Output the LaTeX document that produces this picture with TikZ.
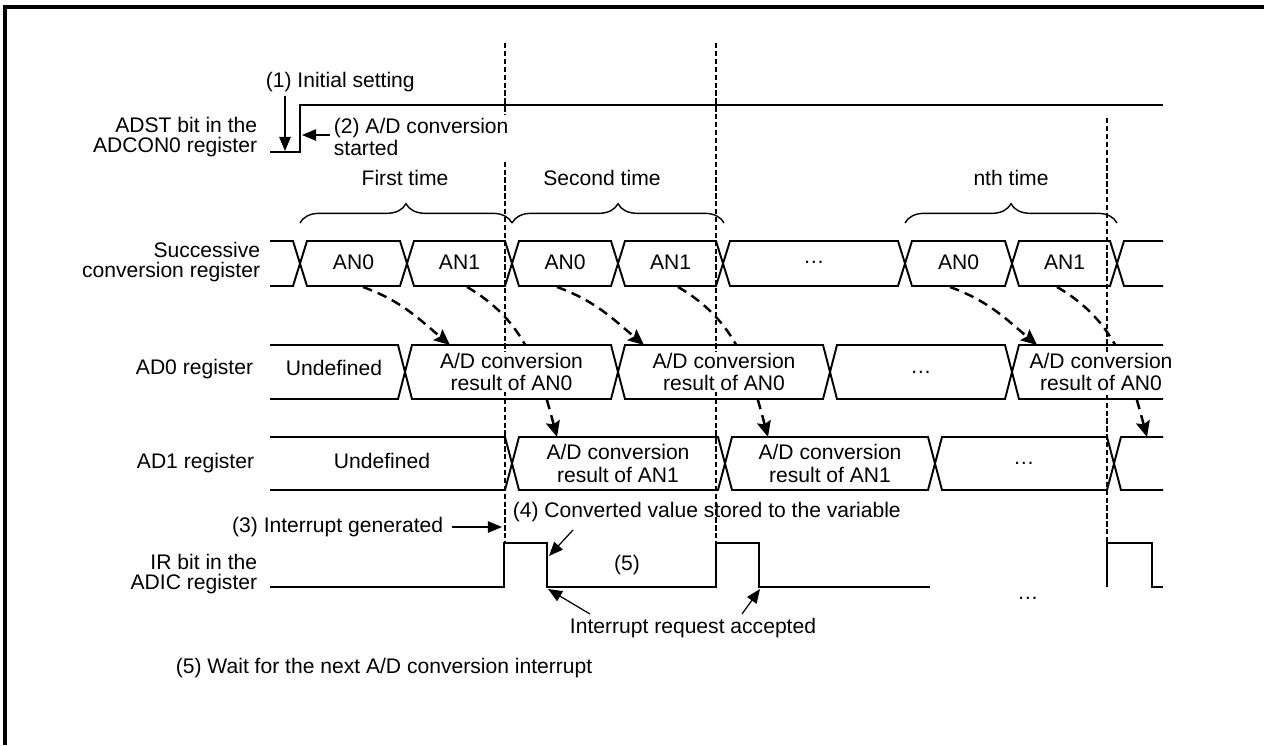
\documentclass[tikz,border=0pt]{standalone}
\usepackage{fontspec}
\setmainfont{Liberation Sans}
\usetikzlibrary{positioning,arrows.meta,calc,decorations.pathreplacing}
\tikzset{
frame/.style={line width=2.3pt},
lbl/.style={font=\fontsize{12}{11}\selectfont, inner sep=2pt},
rowlbl/.style={lbl, align=right, anchor=east},
seglbl/.style={font=\fontsize{12}{13}\selectfont, align=center, inner sep=0.5pt, fill=white},
sig/.style={line width=1.1pt},
bus/.style={line width=1.1pt, fill=white},
guide/.style={line width=0.6pt, dash pattern=on 3pt off 1.5pt},
xfer/.style={line width=1.4pt, dash pattern=on 5.5pt off 3.5pt, -{Stealth[width=8pt,length=9pt,inset=1.5pt]}},
note/.style={line width=0.7pt, -{Triangle[width=6.5pt,length=8pt]}},
brc/.style={decorate, decoration={brace, amplitude=11pt}, line width=0.8pt}
}
\begin{document}
\begin{tikzpicture}[x=0.02cm, y=-0.02cm]
\useasboundingbox (0,0) rectangle (1264,745);

% frame
\draw[frame] (5,745) -- (5,7) -- (1264,7);

% transfers to AD0 / AD1 (boxes drawn later hide the middle part)
\foreach \s [count=\i] in {363,557,950}{
  \coordinate (an0s\i) at (\s,287);
  \coordinate (ad0e\i) at (\s+87,345);
  \draw[xfer] (an0s\i) to[out=-20,in=140] (ad0e\i);
}
\foreach \s [count=\i] in {467,678,1057}{
  \coordinate (an1s\i) at (\s,287);
  \coordinate (ad1e\i) at (\s+90,437);
  \draw[xfer] (an1s\i) to[out=-30,in=105] (ad1e\i);
}

% ADST bit
\draw[sig] (270,152) -- (300,152) -- (300,105) -- (1163,105);

% successive conversion register
\draw[bus] (270,241) -- (293,241) -- (300,263.5) -- (293,286) -- (270,286);
\foreach \a/\b in {300/407,407/512,512/618,618/723,723/905,905/1012,1012/1117}
  \draw[bus] (\a,263.5) -- (\a+7,241) -- (\b-7,241) -- (\b,263.5) -- (\b-7,286) -- (\a+7,286) -- cycle;
\draw[bus] (1163,241) -- (1124,241) -- (1117,263.5) -- (1124,286) -- (1163,286);

% AD0 register
\draw[bus] (270,345) -- (398,345) -- (405,372) -- (398,399) -- (270,399);
\foreach \a/\b in {405/618,618/830,830/1012}
  \draw[bus] (\a,372) -- (\a+7,345) -- (\b-7,345) -- (\b,372) -- (\b-7,399) -- (\a+7,399) -- cycle;
\draw[bus] (1163,345) -- (1019,345) -- (1012,372) -- (1019,399) -- (1163,399);

% AD1 register
\draw[bus] (270,437) -- (505,437) -- (512,463.5) -- (505,490) -- (270,490);
\foreach \a/\b in {512/725,725/935,935/1114}
  \draw[bus] (\a,463.5) -- (\a+7,437) -- (\b-7,437) -- (\b,463.5) -- (\b-7,490) -- (\a+7,490) -- cycle;
\draw[bus] (1163,437) -- (1121,437) -- (1114,463.5) -- (1121,490) -- (1163,490);

% IR bit
\draw[sig] (270,587) -- (504,587) -- (504,543) -- (547,543) -- (547,587) -- (716,587)
  -- (716,543) -- (759,543) -- (759,587) -- (930,587);
\draw[sig] (1107,587) -- (1107,543) -- (1152,543) -- (1152,587) -- (1163,587);

% guides
\draw[guide] (505,43) -- (505,543);
\draw[guide] (716,43) -- (716,543);
\draw[guide] (1107,118) -- (1107,543);

% braces
\draw[brc] (300,223) -- (512,223);
\draw[brc] (512,223) -- (724,223);
\draw[brc] (905,223) -- (1117,223);
\node[lbl] (first) at (405,178) {First time};
\node[lbl] (second) at (602,178) {Second time};
\node[lbl] (nth) at (1011,178) {nth time};

% row labels
\node[rowlbl] (adst) at (261,137) {ADST bit in the\\ADCON0 register};
\node[rowlbl] (succ) at (264,262) {Successive\\conversion register};
\node[rowlbl] (ad0) at (257,369) {AD0 register};
\node[rowlbl] (ad1) at (258,463) {AD1 register};
\node[rowlbl] (ir) at (261,574) {IR bit in the\\ADIC register};

% segment labels
\foreach \x/\t [count=\i] in {353.5/AN0,459.5/AN1,565/AN0,670.5/AN1,814/…,958.5/AN0,1064.5/AN1}
  \node[seglbl] (sc\i) at (\x,262) {\t};
\node[seglbl] (ad0u) at (334,368) {Undefined};
\foreach \x/\t [count=\i] in {511.5/{A/D conversion\\result of AN0},724/{A/D conversion\\result of AN0},921/…,1101/{A/D conversion\\result of AN0}}
  \node[seglbl] (ad0s\i) at (\x,372) {\t};
\node[seglbl] (ad1u) at (382,461) {Undefined};
\foreach \x/\t [count=\i] in {618/{A/D conversion\\result of AN1},830/{A/D conversion\\result of AN1},1024/…}
  \node[seglbl] (ad1s\i) at (\x,463.5) {\t};
\node[lbl] (irdots) at (1028,598) {…};

% notes
\node[lbl, anchor=west] (init) at (262,82) {(1) Initial setting};
\coordinate (adstlow) at (285,151);
\draw[note] (init.south -| adstlow) -- (adstlow);

\node[lbl, anchor=west, align=left, fill=white] (started) at (330,137) {(2) A/D conversion\\started};
\coordinate (adstrise) at (302,135);
\draw[note] (started.west |- adstrise) -- (adstrise);

\node[lbl, anchor=east] (intgen) at (447,527) {(3) Interrupt generated};
\coordinate (irrise) at (502,527);
\draw[note] ([xshift=3pt]intgen.east) -- (irrise);

\node[lbl, anchor=west] (stored) at (509,512) {(4) Converted value stored to the variable};
\coordinate (storedtail) at (573,530);
\coordinate (irfall) at (549,556);
\draw[note] (storedtail) -- (irfall);

\node[lbl] (wait5) at (627,565) {(5)};

\node[lbl] (accept) at (693,628) {Interrupt request accepted};
\coordinate (acc1) at (590,614);
\coordinate (acc2) at (742,614);
\coordinate (irlow1) at (548,589);
\coordinate (irlow2) at (760,589);
\draw[note] (acc1) -- (irlow1);
\draw[note] (acc2) -- (irlow2);

\node[lbl, anchor=west] (waitnote) at (172,668) {(5) Wait for the next A/D conversion interrupt};

\end{tikzpicture}
\end{document}
